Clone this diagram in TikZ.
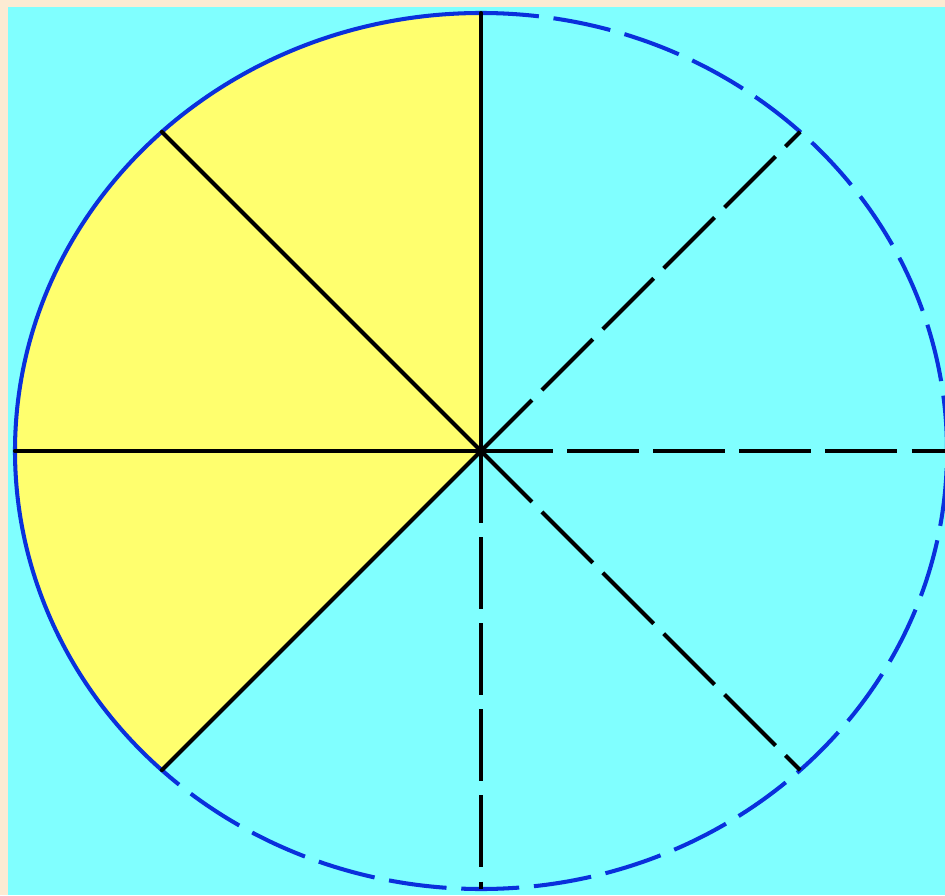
\documentclass[tikz,border=0pt]{standalone}
\usetikzlibrary{shapes.geometric}
\definecolor{bgCream}{HTML}{FCEBD3}
\definecolor{bgCyan}{HTML}{80FFFF}
\definecolor{pieYellow}{HTML}{FFFF6E}
\definecolor{rimBlue}{HTML}{0A30DC}
\tikzset{
  spoke/.style={draw=black, line width=1.15pt, line cap=round},
  hidspoke/.style={draw=black, line width=1.15pt, dash pattern=on 20.5pt off 4pt},
  rim/.style={draw=rimBlue, line width=1.15pt},
  hidrim/.style={draw=rimBlue, line width=1.15pt, dash pattern=on 16.5pt off 4.2pt}
}
\begin{document}
\begin{tikzpicture}
\useasboundingbox (-4.81,-4.44) rectangle (4.64,4.51);
% background
\fill[bgCream] (-4.81,-4.44) rectangle (4.64,4.51);
\fill[bgCyan] (-4.73,-4.44) rectangle (4.64,4.44);

% plate outline, used for the rim points only
\node[ellipse, draw=none, inner sep=0pt, outer sep=0pt,
      minimum width=9.32cm, minimum height=8.76cm] (plate) at (0,0) {};

% shaded part
\fill[pieYellow] (plate.center) -- (plate.90)
  arc[start angle=90, end angle=226.77, x radius=4.66cm, y radius=4.38cm] -- cycle;

% rim
\draw[rim] (plate.90)
  arc[start angle=90, end angle=226.77, x radius=4.66cm, y radius=4.38cm];
\draw[hidrim] (plate.90)
  arc[start angle=90, end angle=-133.23, x radius=4.66cm, y radius=4.38cm];

% spokes
\foreach \a in {90,135,180,225}
  \draw[spoke] (plate.center) -- (plate.\a);
\foreach \a in {270,315,0,45}
  \draw[hidspoke] (plate.center) -- (plate.\a);
\end{tikzpicture}
\end{document}
